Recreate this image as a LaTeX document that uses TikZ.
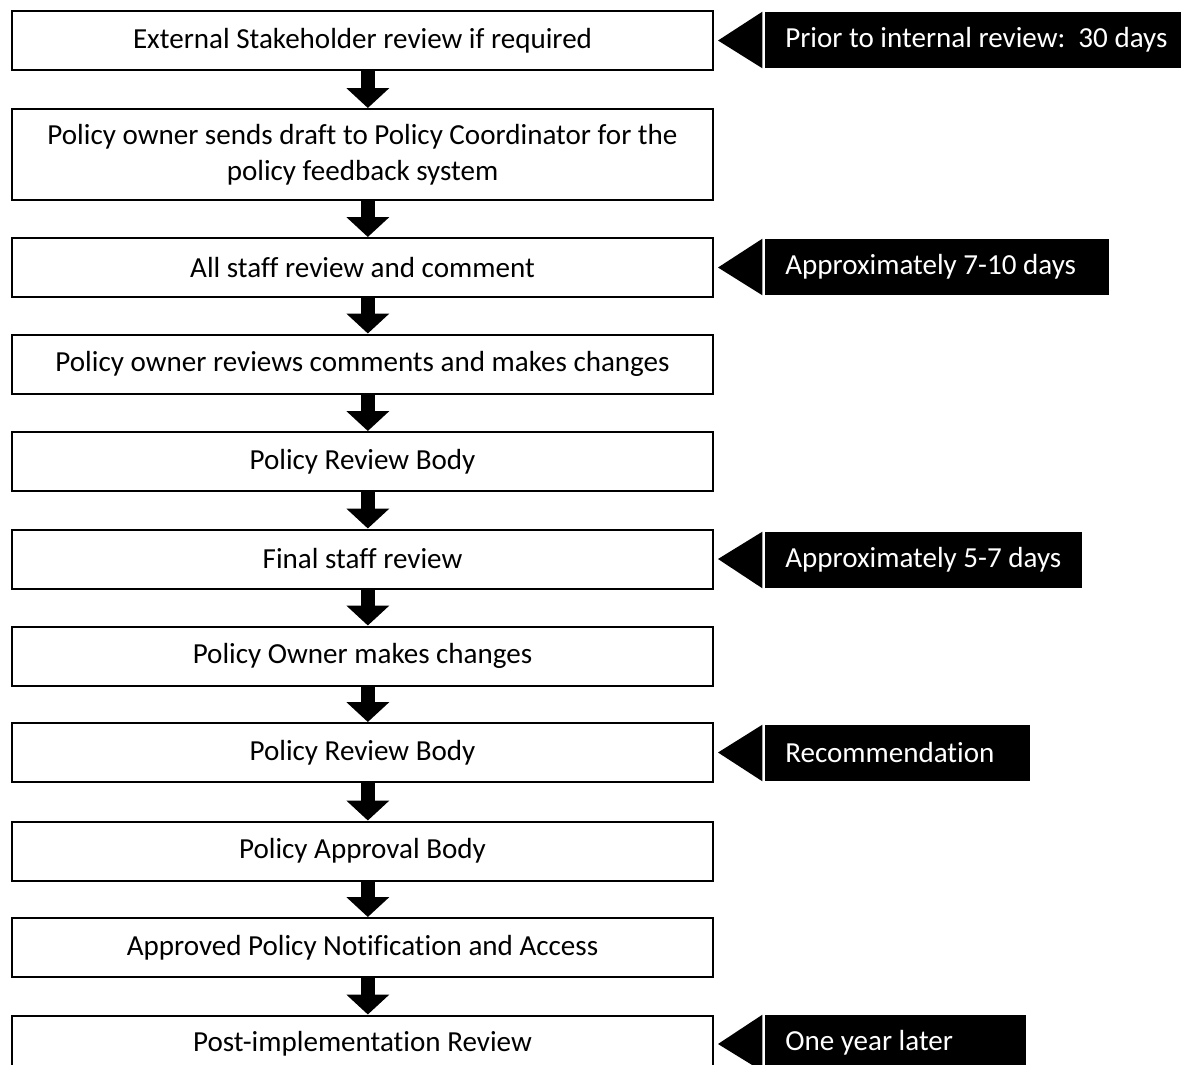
\documentclass[tikz,border=0pt]{standalone}
\usepackage{fontspec}
\setmainfont{Carlito}[Ligatures=NoCommon]
\usetikzlibrary{arrows.meta}

\begin{document}
\begin{tikzpicture}[x=0.75pt, y=-0.75pt,
  stage/.style={draw, line width=1.5pt, fill=white, minimum width=525.75pt, minimum height=44.25pt, inner sep=0pt, align=center, font=\fontsize{21.8pt}{27pt}\selectfont},
  note/.style={fill=black, text=white, anchor=west, minimum height=42pt, inner xsep=15pt, inner ysep=0pt, font=\fontsize{21.8pt}{25pt}\selectfont},
  flow/.style={line width=10.5pt, -{Triangle[width=31.5pt, length=15pt]}}]
  \path[use as bounding box, clip] (0,0) rectangle (1183,1065);

  \node[stage] (ext) at (362.5,40.5) {External Stakeholder review if required};
  \node[stage, minimum height=68.25pt] (draft) at (362.5,154.5) {Policy owner sends draft to Policy Coordinator for the\\policy feedback system};
  \node[stage] (staff) at (362.5,267.5) {All staff review and comment};
  \node[stage] (owner) at (362.5,364) {Policy owner reviews comments and makes changes};
  \node[stage] (body) at (362.5,461.5) {Policy Review Body};
  \node[stage] (final) at (362.5,559) {Final staff review};
  \node[stage] (changes) at (362.5,656) {Policy Owner makes changes};
  \node[stage] (body2) at (362.5,752.5) {Policy Review Body};
  \node[stage] (approval) at (362.5,851) {Policy Approval Body};
  \node[stage] (notify) at (362.5,947.5) {Approved Policy Notification and Access};
  \node[stage, minimum height=42.75pt] (post) at (362.5,1044) {Post-implementation Review};

  \node[note] (prior) at (765,40) {\makebox[282pt][l]{Prior to internal review:\ \ 30 days}};
  \node[note] (days710) at (765,267) {\makebox[228pt][l]{Approximately 7-10 days}};
  \node[note] (days57) at (765,560) {\makebox[207.75pt][l]{Approximately 5-7 days}};
  \node[note] (recom) at (765,753) {\makebox[168.75pt][l]{Recommendation}};
  \node[note] (later) at (765,1043) {\makebox[165.75pt][l]{One year later}};

  \draw[flow] ([xshift=4pt]ext.south) -- ([xshift=4pt]draft.north);
  \draw[flow] ([xshift=4pt]draft.south) -- ([xshift=4pt]staff.north);
  \draw[flow] ([xshift=4pt]staff.south) -- ([xshift=4pt]owner.north);
  \draw[flow] ([xshift=4pt]owner.south) -- ([xshift=4pt]body.north);
  \draw[flow] ([xshift=4pt]body.south) -- ([xshift=4pt]final.north);
  \draw[flow] ([xshift=4pt]final.south) -- ([xshift=4pt]changes.north);
  \draw[flow] ([xshift=4pt]changes.south) -- ([xshift=4pt]body2.north);
  \draw[flow] ([xshift=4pt]body2.south) -- ([xshift=4pt]approval.north);
  \draw[flow] ([xshift=4pt]approval.south) -- ([xshift=4pt]notify.north);
  \draw[flow] ([xshift=4pt]notify.south) -- ([xshift=4pt]post.north);

  \fill ([xshift=3pt]ext.east) -- ([xshift=-2pt]prior.north west) -- ([xshift=-2pt]prior.south west) -- cycle;
  \fill ([xshift=3pt]staff.east) -- ([xshift=-2pt]days710.north west) -- ([xshift=-2pt]days710.south west) -- cycle;
  \fill ([xshift=3pt]final.east) -- ([xshift=-2pt]days57.north west) -- ([xshift=-2pt]days57.south west) -- cycle;
  \fill ([xshift=3pt]body2.east) -- ([xshift=-2pt]recom.north west) -- ([xshift=-2pt]recom.south west) -- cycle;
  \fill ([xshift=3pt]post.east) -- ([xshift=-2pt]later.north west) -- ([xshift=-2pt]later.south west) -- cycle;
\end{tikzpicture}
\end{document}
